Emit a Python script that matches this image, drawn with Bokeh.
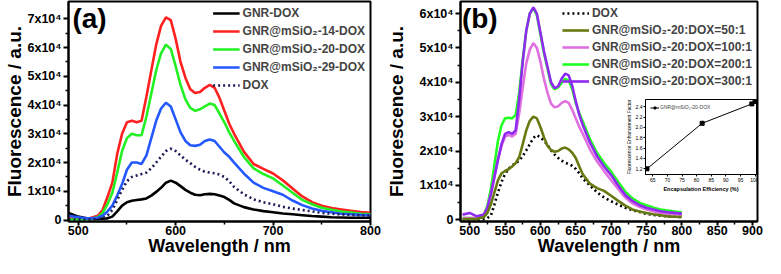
from bokeh.plotting import figure
from bokeh.models import (FixedTicker, Legend, LegendItem, Label, Range1d,
                          PrintfTickFormatter)
from bokeh.layouts import row
from bokeh.embed import file_html
from bokeh.resources import INLINE

FONT = "Liberation Sans"
E4 = 1e4

# ---------------- data (fluorescence in units of 1x10^4) ----------------
wavelength = [490, 500, 510, 520, 525, 530, 535, 540, 545, 550, 555, 560, 565, 570,
              575, 580, 585, 590, 595, 600, 605, 610, 615, 620, 625, 630, 635, 640,
              645, 650, 655, 660, 670, 680, 690, 700, 710, 720, 730, 740, 750, 760,
              770, 780, 790, 800]

# panel (a)
a_gnr_dox = [0.25, 0.12, 0.05, 0.05, 0.05, 0.06, 0.12, 0.30, 0.50, 0.62, 0.67, 0.70, 0.72, 0.75,
             0.85, 0.98, 1.12, 1.30, 1.37, 1.30, 1.18, 1.05, 0.95, 0.88, 0.86, 0.90, 0.91, 0.90,
             0.85, 0.80, 0.70, 0.58, 0.45, 0.37, 0.31, 0.27, 0.23, 0.20, 0.17, 0.14, 0.12, 0.10,
             0.09, 0.08, 0.08, 0.08]
a_msio2_14 = [0.05, 0.05, 0.05, 0.15, 0.35, 0.80, 1.30, 2.30, 3.00, 3.40, 3.45, 3.40, 3.45, 4.30,
              5.20, 6.10, 6.75, 7.05, 6.95, 6.30, 5.50, 4.95, 4.55, 4.42, 4.45, 4.60, 4.70, 4.60,
              4.25, 3.80, 3.35, 3.00, 2.38, 1.95, 1.78, 1.62, 1.38, 1.10, 0.82, 0.62, 0.50, 0.42,
              0.37, 0.32, 0.28, 0.25]
a_msio2_20 = [0.02, 0.02, 0.03, 0.10, 0.25, 0.55, 0.95, 1.65, 2.40, 2.85, 3.00, 2.95, 2.95, 3.60,
              4.40, 5.20, 5.80, 6.10, 5.95, 5.35, 4.70, 4.20, 3.90, 3.80, 3.85, 3.95, 4.05, 4.00,
              3.70, 3.40, 3.05, 2.75, 2.20, 1.80, 1.60, 1.45, 1.20, 0.95, 0.70, 0.55, 0.43, 0.36,
              0.30, 0.26, 0.22, 0.20]
a_msio2_29 = [0.15, 0.10, 0.05, 0.08, 0.15, 0.30, 0.50, 0.85, 1.25, 1.75, 2.00, 2.00, 1.95, 2.25,
              2.85, 3.45, 3.88, 4.08, 3.95, 3.50, 3.05, 2.75, 2.60, 2.58, 2.62, 2.75, 2.80, 2.75,
              2.55, 2.35, 2.20, 2.00, 1.62, 1.30, 1.12, 1.00, 0.88, 0.68, 0.52, 0.40, 0.32, 0.27,
              0.22, 0.20, 0.18, 0.17]
a_dox = [0.02, 0.02, 0.02, 0.03, 0.06, 0.15, 0.35, 0.70, 1.05, 1.35, 1.50, 1.55, 1.60, 1.65,
         1.80, 2.00, 2.20, 2.40, 2.48, 2.40, 2.25, 2.10, 1.98, 1.85, 1.75, 1.68, 1.65, 1.63,
         1.58, 1.50, 1.35, 1.15, 0.90, 0.72, 0.62, 0.55, 0.46, 0.40, 0.35, 0.30, 0.25, 0.22,
         0.20, 0.18, 0.16, 0.15]

# panel (b)
b_dox = [0.00, 0.00, 0.00, 0.02, 0.05, 0.12, 0.45, 0.80, 1.10, 1.33, 1.48, 1.58, 1.65, 1.72,
         1.85, 2.02, 2.20, 2.38, 2.46, 2.40, 2.30, 2.18, 2.02, 1.90, 1.80, 1.72, 1.66, 1.62,
         1.57, 1.48, 1.35, 1.20, 1.00, 0.80, 0.65, 0.54, 0.44, 0.35, 0.28, 0.23, 0.17, 0.14,
         0.12, 0.10, 0.09, 0.08]
b_50 = [0.02, 0.02, 0.02, 0.08, 0.20, 0.45, 0.80, 1.15, 1.35, 1.42, 1.47, 1.55, 1.65, 1.82,
        2.20, 2.60, 2.88, 3.00, 2.95, 2.70, 2.40, 2.15, 2.03, 1.98, 2.00, 2.07, 2.10, 2.05,
        1.95, 1.80, 1.55, 1.32, 1.05, 0.92, 0.84, 0.70, 0.55, 0.41, 0.30, 0.24, 0.20, 0.16,
        0.13, 0.10, 0.09, 0.08]
b_100 = [0.05, 0.05, 0.05, 0.15, 0.35, 0.75, 1.25, 1.75, 2.15, 2.42, 2.47, 2.42, 2.50, 3.10,
         3.85, 4.55, 4.95, 5.14, 5.00, 4.60, 4.10, 3.70, 3.38, 3.27, 3.30, 3.40, 3.45, 3.40,
         3.20, 2.95, 2.70, 2.50, 2.05, 1.70, 1.42, 1.15, 0.90, 0.65, 0.48, 0.38, 0.30, 0.25,
         0.20, 0.18, 0.16, 0.15]
b_200 = [0.05, 0.05, 0.05, 0.15, 0.40, 0.90, 1.60, 2.30, 2.75, 2.95, 2.97, 2.95, 3.05, 3.70,
         4.65, 5.50, 6.00, 6.15, 5.95, 5.40, 4.85, 4.40, 3.95, 3.80, 3.85, 3.98, 4.10, 4.05,
         3.80, 3.40, 3.10, 2.85, 2.35, 1.95, 1.65, 1.40, 1.10, 0.82, 0.62, 0.50, 0.42, 0.35,
         0.30, 0.27, 0.24, 0.22]
b_300 = [0.15, 0.20, 0.10, 0.15, 0.35, 0.75, 1.25, 1.75, 2.20, 2.50, 2.55, 2.50, 2.60, 3.50,
         4.60, 5.50, 6.00, 6.18, 6.00, 5.45, 4.90, 4.45, 4.00, 3.83, 3.88, 4.10, 4.25, 4.20,
         3.90, 3.45, 3.05, 2.75, 2.25, 1.85, 1.55, 1.30, 1.00, 0.72, 0.55, 0.43, 0.35, 0.30,
         0.25, 0.22, 0.20, 0.18]

# inset
inset_efficiency = [63.0, 81.9, 98.9, 100.0]
inset_factor = [1.20, 2.08, 2.455, 2.50]

# ticks
a_xticks = [500, 600, 700, 800]
a_xminor = [550, 650, 750]
a_yticks = [0, 1, 2, 3, 4, 5, 6, 7]
a_ylabels = ["0", "1x10⁴", "2x10⁴", "3x10⁴", "4x10⁴", "5x10⁴", "6x10⁴", "7x10⁴"]
b_xticks = [500, 550, 600, 650, 700, 750, 800, 850, 900]
b_yticks = [0, 1, 2, 3, 4, 5, 6]
b_ylabels = ["0", "1x10⁴", "2x10⁴", "3x10⁴", "4x10⁴", "5x10⁴", "6x10⁴"]
inset_xticks = [65, 70, 75, 80, 85, 90, 95, 100]
inset_yticks = [1.2, 1.4, 1.6, 1.8, 2.0, 2.2, 2.4]


def scaled(vals):
    return [v * E4 for v in vals]


def style_axes(p, xticks, xminor, yticks, ylabels, yminor, label_standoff):
    p.outline_line_color = "black"
    p.outline_line_width = 2
    p.xgrid.visible = False
    p.ygrid.visible = False
    p.xaxis.ticker = FixedTicker(ticks=xticks, minor_ticks=xminor)
    p.yaxis.ticker = FixedTicker(ticks=[int(t * E4) for t in yticks],
                                 minor_ticks=[int(m * E4) for m in yminor])
    p.yaxis.major_label_overrides = {int(t * E4): lab for t, lab in zip(yticks, ylabels)}
    for ax in (p.xaxis[0], p.yaxis[0]):
        ax.axis_line_width = 2
        ax.major_tick_line_width = 2
        ax.minor_tick_line_width = 1.5
        ax.major_tick_in = 0
        ax.major_tick_out = 5
        ax.minor_tick_in = 0
        ax.minor_tick_out = 3
        ax.major_label_text_font = FONT
        ax.major_label_text_font_style = "bold"
        ax.major_label_text_font_size = "12.5px"
        ax.major_label_text_color = "black"
        ax.axis_label_text_font = FONT
        ax.axis_label_text_font_style = "bold"
        ax.axis_label_text_color = "black"
    p.xaxis.major_tick_out = 4
    p.xaxis.major_label_standoff = 0
    p.xaxis.axis_label = "Wavelength / nm"
    p.xaxis.axis_label_text_font_size = "18px"
    p.xaxis.axis_label_standoff = -2
    p.yaxis.axis_label = "Fluorescence / a.u."
    p.yaxis.axis_label_text_font_size = "19px"
    p.yaxis.major_label_standoff = 2
    p.yaxis.axis_label_standoff = label_standoff


def make_legend(p, items, label_height, spacing):
    leg = Legend(items=[LegendItem(label=lab, renderers=[r]) for lab, r in items],
                 location="top_right")
    leg.background_fill_alpha = 0
    leg.border_line_alpha = 0
    leg.label_text_font = FONT
    leg.label_text_font_style = "bold"
    leg.label_text_font_size = "12px"
    leg.glyph_width = 27
    leg.glyph_height = 10
    leg.label_height = label_height
    leg.label_standoff = 3
    leg.spacing = spacing
    leg.padding = 2
    leg.margin = 3
    p.add_layout(leg)


# ---------------- panel (a) ----------------
pa = figure(width=382, height=258, x_range=Range1d(490, 800), y_range=Range1d(-500, 76000),
            output_backend="svg", toolbar_location=None,
            min_border_left=59, min_border_right=12, min_border_top=1, min_border_bottom=0)
style_axes(pa, a_xticks, a_xminor, a_yticks, a_ylabels,
           [t + 0.5 for t in a_yticks[:-1]], 0)
ra1 = pa.line(wavelength, scaled(a_gnr_dox), line_color="#000000", line_width=2.6)
ra2 = pa.line(wavelength, scaled(a_msio2_14), line_color="#ff2020", line_width=2.6)
ra3 = pa.line(wavelength, scaled(a_msio2_20), line_color="#22f022", line_width=2.6)
ra4 = pa.line(wavelength, scaled(a_msio2_29), line_color="#2458ff", line_width=2.6)
ra5 = pa.line(wavelength, scaled(a_dox), line_color="#1a1a55", line_width=2.6, line_dash="2 3")
make_legend(pa, [("GNR-DOX", ra1), ("GNR@mSiO₂-14-DOX", ra2), ("GNR@mSiO₂-20-DOX", ra3),
                 ("GNR@mSiO₂-29-DOX", ra4), ("DOX", ra5)], 14, 4)
pa.add_layout(Label(x=494, y=75500, text="(a)", text_baseline="top", text_font=FONT,
                    text_font_style="bold", text_font_size="28px", text_color="black"))

# ---------------- panel (b) ----------------
pb = figure(width=383, height=258, x_range=Range1d(487, 907), y_range=Range1d(-500, 63500),
            output_backend="svg", toolbar_location=None,
            min_border_left=72, min_border_right=8, min_border_top=1, min_border_bottom=0)
style_axes(pb, b_xticks, [t + 25 for t in b_xticks[:-1]], b_yticks, b_ylabels,
           [t + 0.5 for t in b_yticks[:-1]], 10)
rb1 = pb.line(wavelength, scaled(b_dox), line_color="#000000", line_width=2.6, line_dash="2 3")
rb4 = pb.line(wavelength, scaled(b_200), line_color="#22ff22", line_width=2.6)
rb3 = pb.line(wavelength, scaled(b_100), line_color="#e070e0", line_width=2.6)
rb5 = pb.line(wavelength, scaled(b_300), line_color="#8f2af0", line_width=2.6)
rb2 = pb.line(wavelength, scaled(b_50), line_color="#667a12", line_width=2.6)
make_legend(pb, [("DOX", rb1), ("GNR@mSiO₂-20:DOX=50:1", rb2), ("GNR@mSiO₂-20:DOX=100:1", rb3),
                 ("GNR@mSiO₂-20:DOX=200:1", rb4), ("GNR@mSiO₂-20:DOX=300:1", rb5)], 13, 3)
pb.add_layout(Label(x=489, y=63000, text="(b)", text_baseline="top", text_font=FONT,
                    text_font_style="bold", text_font_size="28px", text_color="black"))

# ---------------- inset ----------------
inset = figure(width=135, height=96, x_range=Range1d(62.5, 100.5), y_range=Range1d(1.09, 2.54),
               output_backend="svg", toolbar_location=None,
               min_border_left=18, min_border_bottom=14, min_border_top=1, min_border_right=2,
               background_fill_alpha=0, border_fill_alpha=0,
               styles={"position": "absolute", "left": "623px", "top": "98px"})
inset.outline_line_color = "black"
inset.outline_line_width = 1
inset.xgrid.visible = False
inset.ygrid.visible = False
inset.xaxis.ticker = FixedTicker(ticks=inset_xticks)
inset.yaxis.ticker = FixedTicker(ticks=inset_yticks)
inset.yaxis.formatter = PrintfTickFormatter(format="%.1f")
inset.xaxis.axis_label = "Encapsulation Efficiency (%)"
inset.yaxis.axis_label = "Fluorescence Enhancement Factor"
for ax in (inset.xaxis[0], inset.yaxis[0]):
    ax.axis_line_width = 1
    ax.major_tick_in = 0
    ax.major_tick_out = 2
    ax.minor_tick_out = 0
    ax.minor_tick_in = 0
    ax.major_label_standoff = 1
    ax.axis_label_standoff = 1
    ax.major_label_text_font = FONT
    ax.major_label_text_font_size = "5px"
    ax.major_label_text_color = "black"
    ax.axis_label_text_font = FONT
    ax.axis_label_text_color = "black"
inset.xaxis.axis_label_text_font_size = "5.5px"
inset.xaxis.axis_label_text_font_style = "bold"
inset.yaxis.axis_label_text_font_size = "4.8px"
inset.yaxis.axis_label_text_font_style = "normal"
ri_l = inset.line(inset_efficiency, inset_factor, line_color="black", line_width=1)
ri_m = inset.scatter(inset_efficiency, inset_factor, marker="square", size=4, color="black")
ileg = Legend(items=[LegendItem(label="GNR@mSiO₂-20-DOX", renderers=[ri_l, ri_m])],
              location="top_left")
ileg.background_fill_alpha = 0
ileg.border_line_alpha = 0
ileg.label_text_font = FONT
ileg.label_text_font_size = "5px"
ileg.glyph_width = 9
ileg.glyph_height = 5
ileg.label_height = 6
ileg.label_standoff = 1
ileg.padding = 1
ileg.margin = 4
inset.add_layout(ileg)

layout = row(pa, pb)
open("out.html", "w").write(file_html([layout, inset], INLINE))
